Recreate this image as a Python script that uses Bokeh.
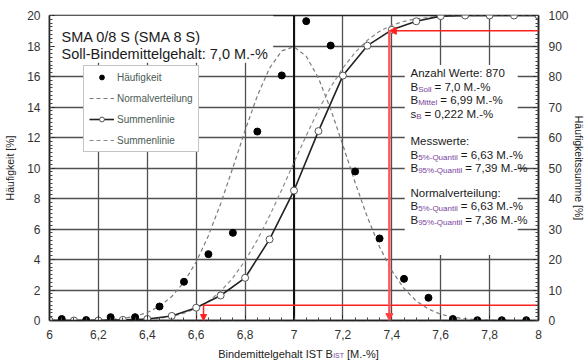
import numpy as np
from bokeh.plotting import figure
from bokeh.layouts import column
from bokeh.models import (Range1d, LinearAxis, FixedTicker, Label, Legend, LegendItem,
                          Arrow, NormalHead, Span, BoxAnnotation)
from bokeh.embed import file_html
from bokeh.resources import INLINE

FONT = "Liberation Sans"

# ---------------- data ----------------
bin_x = [6.05, 6.15, 6.25, 6.35, 6.45, 6.55, 6.65, 6.75, 6.85, 6.95,
         7.05, 7.15, 7.25, 7.35, 7.45, 7.55, 7.65, 7.75, 7.85, 7.95]
haeufigkeit = [0.1, 0.03, 0.22, 0.22, 0.92, 2.54, 4.35, 5.75, 12.39, 16.07,
               19.63, 18.03, 9.77, 5.38, 2.73, 1.49, 0.1, 0.02, 0.02, 0.02]

sum_x = [6.0, 6.1, 6.2, 6.3, 6.4, 6.5, 6.6, 6.7, 6.8, 6.9, 7.0,
         7.1, 7.2, 7.3, 7.4, 7.5, 7.6, 7.7, 7.8, 7.9, 8.0]
summe = [0, 0, 0, 0.2, 0.5, 1.5, 4.2, 8.2, 14.0, 26.6, 42.6,
         62.1, 80.3, 90.1, 95.3, 98.1, 99.8, 100, 100, 100, 100]

normal_x = [6.00, 6.05, 6.10, 6.15, 6.20, 6.25, 6.30, 6.35, 6.40, 6.45, 6.50,
            6.55, 6.60, 6.65, 6.70, 6.75, 6.80, 6.85, 6.90, 6.95, 7.00,
            7.05, 7.10, 7.15, 7.20, 7.25, 7.30, 7.35, 7.40, 7.45, 7.50,
            7.55, 7.60, 7.65, 7.70, 7.75, 7.80, 7.85, 7.90, 7.95, 8.00]
normal_pdf = [0, 0, 0, 0.01, 0.03, 0.07, 0.14, 0.28, 0.52, 0.93, 1.57,
              2.52, 3.84, 5.56, 7.66, 10.02, 12.46, 14.73, 16.55, 17.68, 17.95,
              17.33, 15.9, 13.86, 11.49, 9.05, 6.78, 4.82, 3.27, 2.10, 1.28,
              0.75, 0.41, 0.22, 0.11, 0.05, 0.02, 0.01, 0, 0, 0]
normal_cdf = [0, 0, 0, 0, 0.02, 0.04, 0.09, 0.20, 0.39, 0.75, 1.37,
              2.37, 3.95, 6.28, 9.58, 13.98, 19.6, 26.4, 34.3, 42.9, 51.8,
              60.6, 69.0, 76.5, 82.8, 87.9, 91.9, 94.8, 96.8, 98.1, 98.9,
              99.4, 99.7, 99.85, 99.93, 99.97, 99.99, 100, 100, 100, 100]

quantile_levels = [5, 95]
quantile_mess = [6.63, 7.39]
quantile_norm = [6.63, 7.36]
n_werte = 870
b_soll = 7.0
b_mittel = 6.99
s_b = 0.222

x_ticks = [6, 6.2, 6.4, 6.6, 6.8, 7, 7.2, 7.4, 7.6, 7.8, 8]
x_tick_labels = ["6", "6,2", "6,4", "6,6", "6,8", "7", "7,2", "7,4", "7,6", "7,8", "8"]
y_ticks = [0, 2, 4, 6, 8, 10, 12, 14, 16, 18, 20]
y2_ticks = [0, 10, 20, 30, 40, 50, 60, 70, 80, 90, 100]

X_MIN, X_MAX = 6, 8

def de(v, d):
    return f"{v:.{d}f}".replace(".", ",")

# ---------------- layout ----------------
FRAME_L, FRAME_B = 49, 320
MAIN_H = 343

p = figure(width=587, height=MAIN_H, x_range=Range1d(X_MIN, X_MAX), y_range=Range1d(0, 20),
           output_backend="svg", toolbar_location=None,
           min_border_left=49, min_border_right=44, min_border_top=15,
           min_border_bottom=MAIN_H - FRAME_B)
p.extra_y_ranges = {"sum": Range1d(0, 100)}
p.outline_line_color = "#222"
p.outline_line_width = 1.5
p.background_fill_color = "white"
p.border_fill_color = "white"

def style_axis(ax):
    ax.axis_line_color = "#222"
    ax.axis_line_width = 1.5
    ax.major_tick_in = 5
    ax.major_tick_out = 0
    ax.minor_tick_in = 3
    ax.minor_tick_out = 0
    ax.major_tick_line_color = "#222"
    ax.minor_tick_line_color = "#444"
    ax.major_label_text_font = FONT
    ax.major_label_text_font_size = "12px"
    ax.major_label_text_color = "#333"
    ax.major_label_standoff = 9
    ax.axis_label_text_font = FONT
    ax.axis_label_text_font_size = "10.5px"
    ax.axis_label_text_font_style = "normal"
    ax.axis_label_text_color = "#222"

xa = p.xaxis[0]
xa.ticker = FixedTicker(ticks=x_ticks, minor_ticks=list(np.round(np.arange(6, 8.001, 0.05), 2)))
xa.major_label_overrides = dict(zip(x_ticks, x_tick_labels))
style_axis(xa)

ya = p.yaxis[0]
ya.ticker = FixedTicker(ticks=y_ticks, minor_ticks=list(np.arange(0, 20.001, 0.25)))
style_axis(ya)
ya.axis_label = "Häufigkeit [%]"
ya.axis_label_standoff = 8

ya2 = LinearAxis(y_range_name="sum",
                 ticker=FixedTicker(ticks=y2_ticks, minor_ticks=list(np.arange(0, 100.001, 1.25))))
style_axis(ya2)
ya2.major_label_standoff = 10
ya2.axis_label = "Häufigkeitssumme [%]"
ya2.axis_label_standoff = 1
p.add_layout(ya2, "right")

p.xgrid.ticker = FixedTicker(ticks=x_ticks)
p.ygrid.ticker = FixedTicker(ticks=y_ticks)
for g in (p.xgrid, p.ygrid):
    g.grid_line_color = "#505050"
    g.grid_line_width = 1.3

# Soll line
p.add_layout(Span(location=b_soll, dimension="height", line_color="#111",
                  line_width=2, level="underlay"))

# white backgrounds behind text blocks
p.add_layout(BoxAnnotation(left=6.0, right=6.915, top=20, bottom=16.9,
                           fill_color="white", fill_alpha=1, line_alpha=0, level="underlay"))
p.add_layout(BoxAnnotation(left=7.453, right=7.915, top=16.75, bottom=4.3,
                           fill_color="white", fill_alpha=1, line_alpha=0, level="underlay"))

# ---------------- glyphs ----------------
pdf_r = p.line(normal_x, normal_pdf, line_color="#7a7a7a", line_width=1.2, line_dash="4 3")
cdf_r = p.line(normal_x, normal_cdf, y_range_name="sum", line_color="#8a8a8a",
               line_width=1.2, line_dash="4 3")
sum_line = p.line(sum_x, summe, y_range_name="sum", line_color="#222", line_width=1.6)
sum_pts = p.scatter(sum_x, summe, y_range_name="sum", size=7, fill_color="white",
                    line_color="#555", line_width=1)
dots = p.scatter(bin_x, haeufigkeit, size=7, fill_color="black", line_color="black")

# quantile markers
p.segment(x0=[quantile_mess[0]], y0=[quantile_levels[0]], x1=[X_MAX], y1=[quantile_levels[0]],
          y_range_name="sum", line_color="#ff2020", line_width=1.5)
p.add_layout(Arrow(end=NormalHead(size=6, fill_color="#ff2020", line_color="#ff2020"),
                   x_start=quantile_mess[0], y_start=quantile_levels[0],
                   x_end=quantile_mess[0], y_end=0, y_range_name="sum",
                   line_color="#ff2020", line_width=1.5))
p.add_layout(Arrow(end=NormalHead(size=7, fill_color="#ff2020", line_color="#ff2020"),
                   x_start=X_MAX, y_start=quantile_levels[1],
                   x_end=quantile_mess[1], y_end=quantile_levels[1], y_range_name="sum",
                   line_color="#ff2020", line_width=1.5))
p.add_layout(Arrow(end=NormalHead(size=7, fill_color="#ff4040", line_color="#ff4040"),
                   x_start=quantile_mess[1], y_start=quantile_levels[1],
                   x_end=quantile_mess[1], y_end=0, y_range_name="sum",
                   line_color="#ff5a5a", line_width=2.5))

# ---------------- legend ----------------
legend = Legend(items=[
    LegendItem(label="Häufigkeit", renderers=[dots]),
    LegendItem(label="Normalverteilung", renderers=[pdf_r]),
    LegendItem(label="Summenlinie", renderers=[sum_line, sum_pts]),
    LegendItem(label="Summenlinie", renderers=[cdf_r]),
], location=(34, 168))
legend.label_text_font = FONT
legend.label_text_font_size = "10px"
legend.label_text_color = "#4b5b55"
legend.glyph_width = 25
legend.glyph_height = 12
legend.label_height = 12
legend.spacing = 9
legend.padding = 5
legend.margin = 0
legend.label_standoff = 3
legend.border_line_color = "#8a8a8a"
legend.border_line_width = 1
legend.background_fill_color = "white"
legend.background_fill_alpha = 1
p.add_layout(legend)

# ---------------- texts ----------------
W = {' ': 278, '%': 889, '(': 333, ')': 333, ',': 278, '-': 333, '.': 278, '/': 278, ':': 278,
     '=': 584, '[': 278, ']': 278, 'I': 278, 'S': 667, 'T': 611, 'B': 667, 'M': 833, 'Q': 778,
     'A': 667, 'W': 944, 'N': 722, 'a': 556, 'b': 556, 'c': 500, 'd': 556, 'e': 556, 'f': 278,
     'g': 556, 'h': 556, 'i': 222, 'l': 222, 'm': 833, 'n': 556, 'o': 556, 'r': 333, 's': 500,
     't': 278, 'u': 556, 'v': 500, 'w': 722, 'z': 500, 'ä': 556, 'ü': 556}

def text_w(s, size):
    return sum(W.get(c, 556) for c in s) * size / 1000.0

def add_text(fig, xp, yp, text, size, color="#1a1a1a", align="left", baseline="alphabetic",
             x0=FRAME_L, y0=FRAME_B):
    fig.add_layout(Label(x=xp - x0, y=y0 - yp, x_units="screen", y_units="screen",
                         text=text, text_font=FONT, text_font_size=f"{size}px",
                         text_color=color, text_align=align, text_baseline=baseline))

SUBCOL = "#7b3f9e"

def add_rich(xp, yp, parts, size, sub_size):
    x = xp
    for txt, kind in parts:
        if kind == "s":
            add_text(p, x, yp + 2.5, txt, sub_size, color=SUBCOL)
            x += text_w(txt, sub_size) + 3
        else:
            add_text(p, x, yp, txt, size)
            x += text_w(txt, size)

# title
add_text(p, 61, 36, "SMA 0/8 S (SMA 8 S)", 14.5)
add_text(p, 61, 53, "Soll-Bindemittelgehalt:  " + de(b_soll, 1) + " M.-%", 14.5)

# info block
info_lines = [
    (72, [("Anzahl Werte: " + str(n_werte), "m")]),
    (86, [("B", "m"), ("Soll", "s"), ("= " + de(b_soll, 1) + " M.-%", "m")]),
    (99.5, [("B", "m"), ("Mittel", "s"), ("= " + de(b_mittel, 2) + " M.-%", "m")]),
    (113, [("s", "m"), ("B", "s"), ("= " + de(s_b, 3) + " M.-%", "m")]),
    (140.5, [("Messwerte:", "m")]),
    (154, [("B", "m"), ("5%-Quantil", "s"), ("= " + de(quantile_mess[0], 2) + " M.-%", "m")]),
    (167.5, [("B", "m"), ("95%-Quantil", "s"), ("= " + de(quantile_mess[1], 2) + " M.-%", "m")]),
    (192, [("Normalverteilung:", "m")]),
    (205.5, [("B", "m"), ("5%-Quantil", "s"), ("= " + de(quantile_norm[0], 2) + " M.-%", "m")]),
    (219, [("B", "m"), ("95%-Quantil", "s"), ("= " + de(quantile_norm[1], 2) + " M.-%", "m")]),
]
for yb, parts in info_lines:
    add_rich(410, yb, parts, 11.5, 8)

# ---------------- x-axis title strip ----------------
STRIP_H = 363 - MAIN_H
q = figure(width=587, height=STRIP_H, x_range=Range1d(0, 587), y_range=Range1d(0, STRIP_H),
           output_backend="svg", toolbar_location=None, min_border=0,
           x_axis_location=None, y_axis_location=None)
q.grid.visible = False
q.outline_line_color = None
q.background_fill_color = "white"
q.border_fill_color = "white"

# the column aligns this strip's frame with the main frame (left edge at FRAME_L)
xl1 = "Bindemittelgehalt IST B"
xl2 = "IST"
xl3 = "[M.-%]"
total = text_w(xl1, 11) + text_w(xl2, 7) + 3 + text_w(xl3, 11)
xs = 298 - total / 2
BASE = 353
add_text(q, xs, BASE, xl1, 11, color="#222", x0=FRAME_L, y0=363)
add_text(q, xs + text_w(xl1, 11), BASE + 2, xl2, 7, color=SUBCOL, x0=FRAME_L, y0=363)
add_text(q, xs + text_w(xl1, 11) + text_w(xl2, 7) + 3, BASE, xl3, 11, color="#222",
         x0=FRAME_L, y0=363)

layout = column(p, q, spacing=0)
open("out.html", "w").write(file_html(layout, INLINE))
